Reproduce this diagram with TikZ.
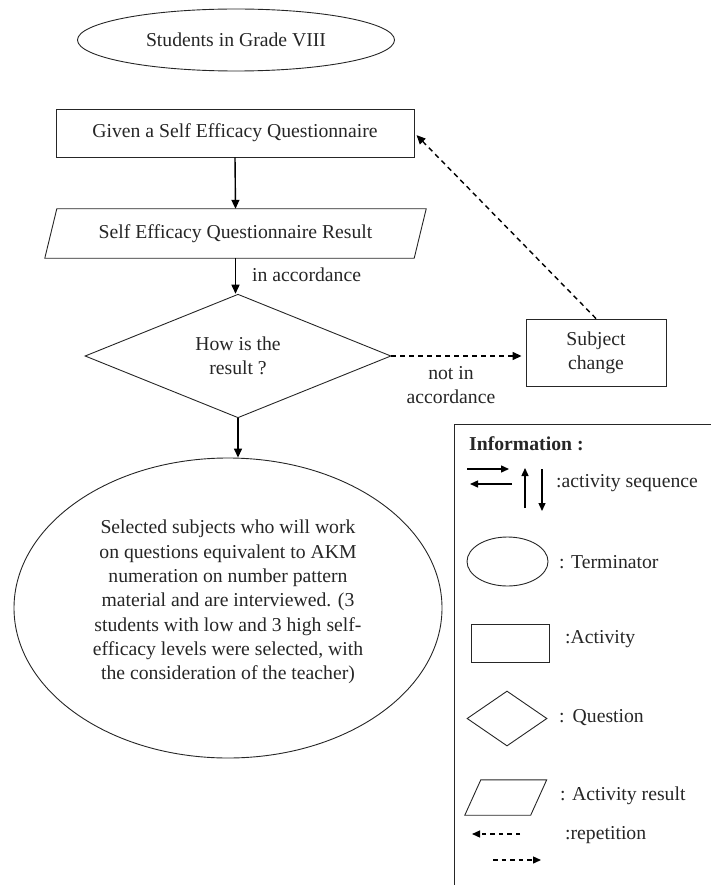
\documentclass[tikz,border=0pt]{standalone}
\usepackage{fontspec}
\setmainfont{Liberation Serif}
\usetikzlibrary{shapes.geometric,arrows.meta,calc}
\begin{document}
\begin{tikzpicture}[x=1pt,y=-1pt,
  every node/.style={font=\fontsize{19.7pt}{24.3pt}\selectfont, inner sep=0pt, text=black!85},
  outl/.style={draw=black!85, line width=0.9pt},
  box/.style={outl, rectangle},
  term/.style={outl, ellipse},
  ques/.style={outl, diamond},
  arr/.style={-{Triangle[length=9pt,width=8pt]}, line width=1.4pt, draw=black},
  darr/.style={-{Triangle[length=9pt,width=8pt]}, line width=1.4pt, draw=black, dash pattern=on 5pt off 4pt},
  sarr/.style={-{Triangle[length=8pt,width=7pt]}, line width=1.4pt, draw=black},
  sdarr/.style={-{Triangle[length=8pt,width=7pt]}, line width=1.3pt, draw=black, dash pattern=on 4.5pt off 4pt},
]
\useasboundingbox (0,0) rectangle (711,885);

% main flow
\node[term, minimum width=317, minimum height=62] (start) at (236,40) {Students in Grade VIII};
\node[box, minimum width=358, minimum height=48] (given) at (235,133) {Given a Self Efficacy Questionnaire};
\node[minimum width=369, minimum height=49] (res) at (235.5,233.5) {Self Efficacy Questionnaire Result};
\draw[outl] ([xshift=-6pt]res.south west) -- ([xshift=6pt]res.north west) -- ([xshift=6pt]res.north east) -- ([xshift=-6pt]res.south east) -- cycle;
\node[ques, minimum width=306, minimum height=122, align=center] (how) at (238,356) {How is the\\result ?};
\node[box, minimum width=140, minimum height=67, align=center] (sub) at (596,352.5) {Subject\\change};
\node[term, minimum width=428, minimum height=300] (sel) at (228,608) {};
\node[align=center] (seltxt) at (228,602) {Selected subjects who will work\\on questions equivalent to AKM\\numeration on number pattern\\material and are interviewed. (3\\students with low and 3 high self-\\efficacy levels were selected, with\\the consideration of the teacher)};

\draw[arr] (given.south) -- (res.north);
\draw[arr] (res.south) -- (res.south |- how.north);
\node[anchor=west] (inacc) at (252,275) {in accordance};
\draw[arr] (how.south) -- (how.south |- sel.north);
\draw[darr, shorten >=4pt] (how.east) -- (how.east -| sub.west);
\node[align=center] (notacc) at (451,385) {not in\\accordance};
\draw[darr, shorten >=3pt] (sub.north) -- (given.east);

% legend
\node[outl, line width=1.1pt, minimum width=262, minimum height=466, anchor=north west] (info) at (454,424) {};
\node[anchor=west] (infot) at (469,444) {\textbf{Information :}};
\coordinate (ra1) at (467,469); \coordinate (ra2) at (509,469);
\coordinate (la1) at (512,484); \coordinate (la2) at (470,484);
\coordinate (ua1) at (525,508); \coordinate (ua2) at (525,468);
\coordinate (da1) at (542,469); \coordinate (da2) at (542,511);
\draw[sarr] (ra1) -- (ra2);
\draw[sarr] (la1) -- (la2);
\draw[sarr] (ua1) -- (ua2);
\draw[sarr] (da1) -- (da2);
\node[anchor=west] (lseq) at (556,483) {:activity sequence};

\node[term, minimum width=81, minimum height=49] (lterm) at (507.5,561.5) {};
\node[anchor=west] (ltermt) at (559,562) {: Terminator};

\node[box, minimum width=78, minimum height=38] (lact) at (510,643) {};
\node[anchor=west] (lactt) at (565,639) {:Activity};

\node[ques, minimum width=80, minimum height=55] (lques) at (507,718.5) {};
\node[anchor=west] (lquest) at (559,718) {:\hspace{8pt}Question};

\node[minimum width=65.5, minimum height=35] (lres) at (505.75,797.5) {};
\draw[outl] ([xshift=-8pt]lres.south west) -- ([xshift=8pt]lres.north west) -- ([xshift=8pt]lres.north east) -- ([xshift=-8pt]lres.south east) -- cycle;
\node[anchor=west] (lrest) at (560,796) {: Activity result};

\coordinate (rp1) at (520,834); \coordinate (rp2) at (472,834);
\coordinate (rp3) at (493,860); \coordinate (rp4) at (541,860);
\draw[sdarr] (rp1) -- (rp2);
\draw[sdarr] (rp3) -- (rp4);
\node[anchor=west] (lrep) at (565,835) {:repetition};
\end{tikzpicture}
\end{document}
